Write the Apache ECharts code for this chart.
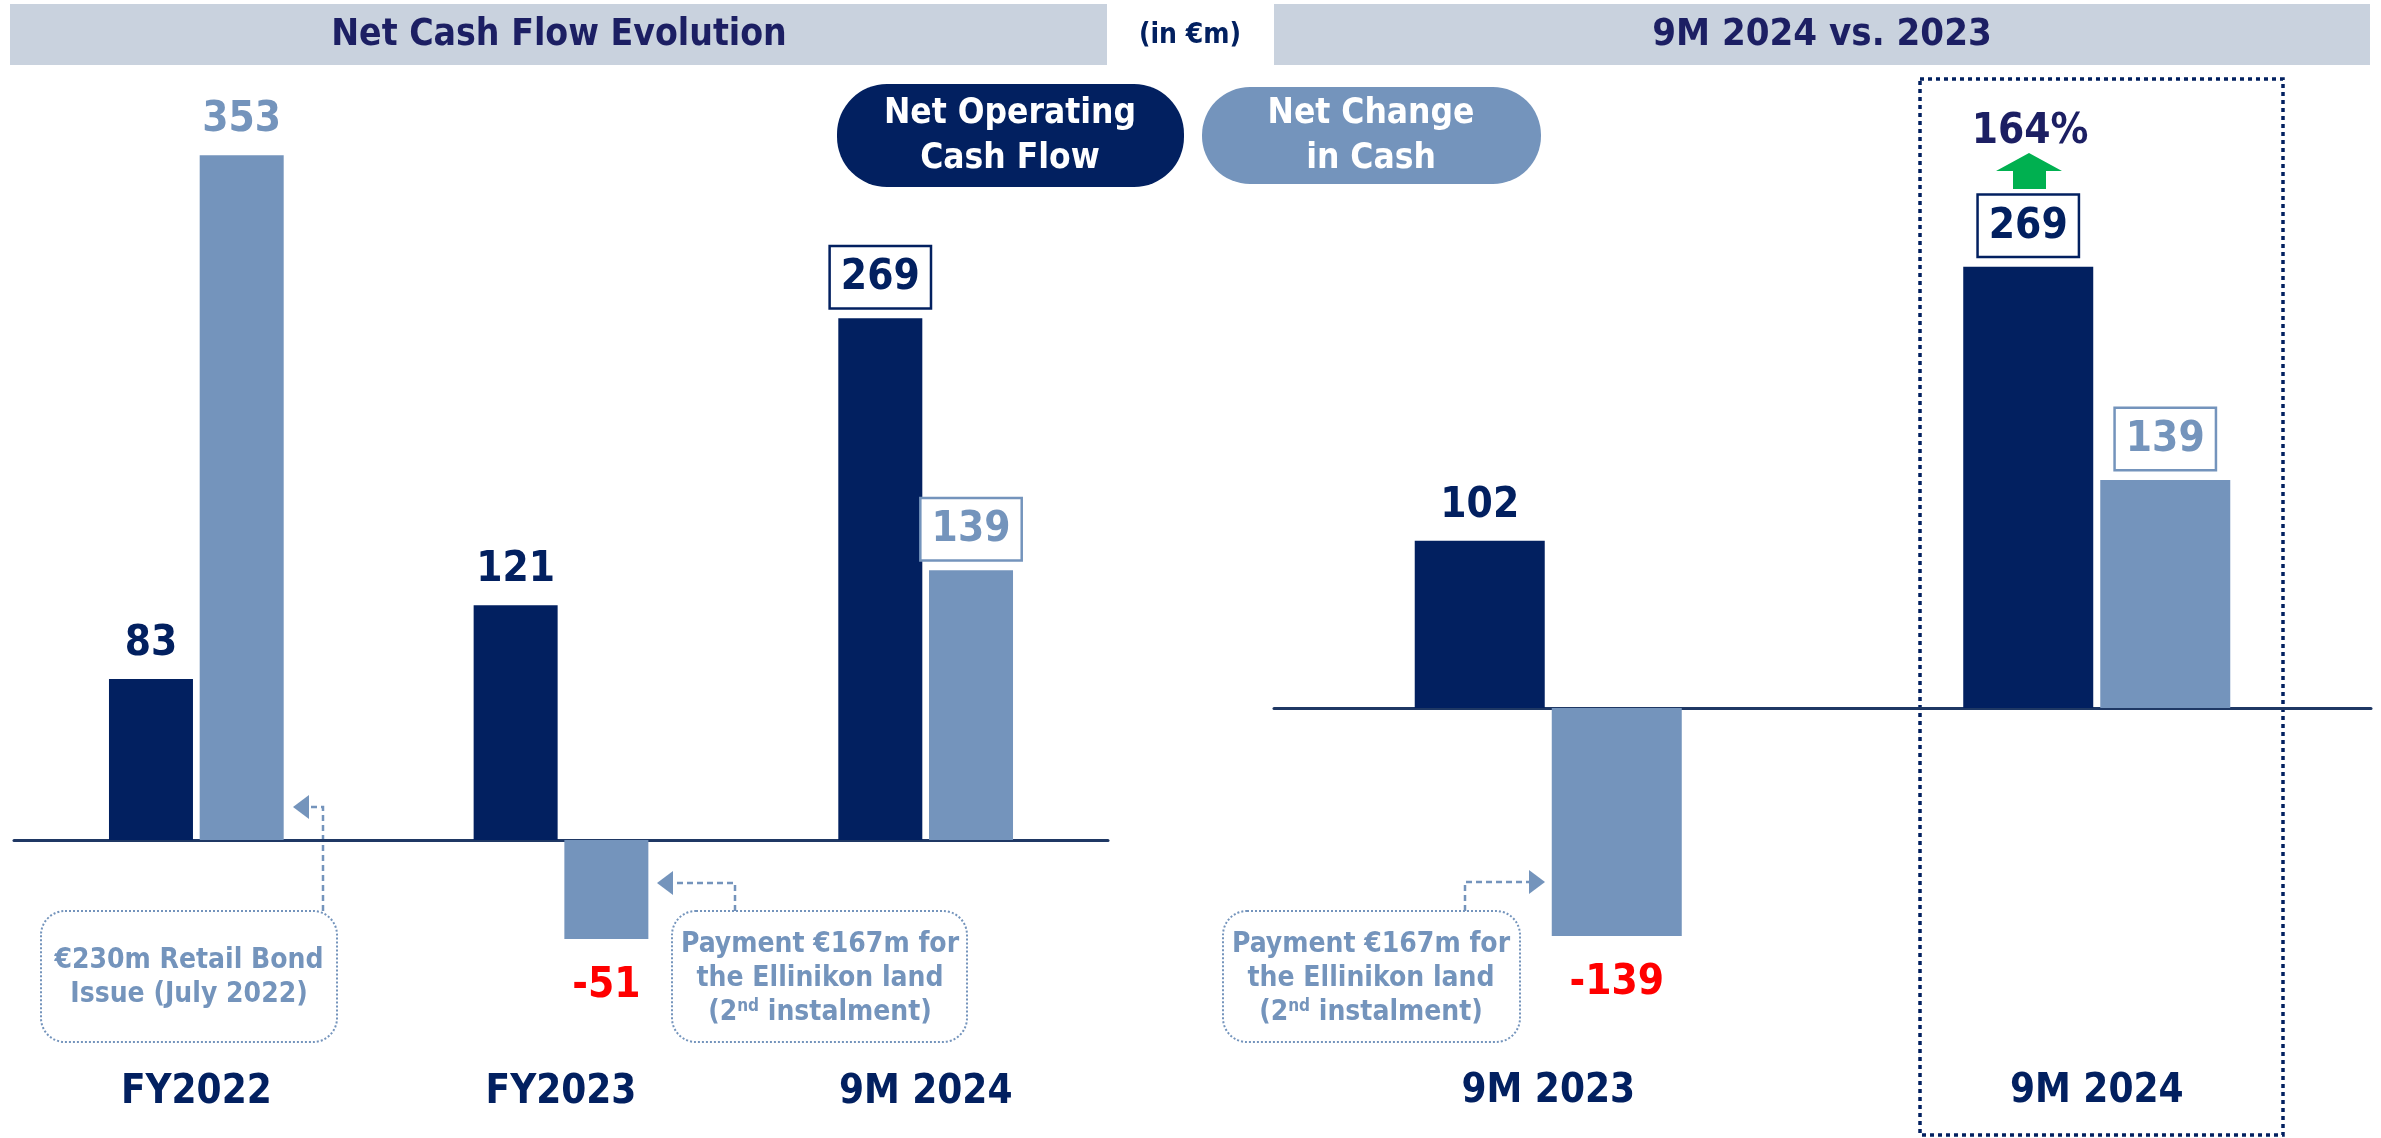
<!DOCTYPE html>
<html>
<head>
<meta charset="utf-8">
<script src="https://cdn.jsdelivr.net/npm/echarts@6/dist/echarts.min.js"></script>
<style>
  html, body { margin: 0; padding: 0; background: #ffffff; }
  #chart { width: 2381px; height: 1138px; }
</style>
</head>
<body>
<div id="chart"></div>
<script>
// Net cash flow, € million
const evolutionPeriods = ['FY2022', 'FY2023', '9M 2024'];
const evolutionOperating = [83, 121, 269];
const evolutionChange = [353, -51, 139];

const comparePeriods = ['9M 2023', '9M 2024'];
const compareOperating = [102, 269];
const compareChange = [-139, 139];

const highlightPeriod = '9M 2024';
const growthText = '164%';

const NAVY = '#022060';
const STEEL = '#7494BC';
const TITLE_INK = '#1C1F63';
const BANNER = '#C9D2DE';
const NEG_RED = '#FF0000';
const FONT = '"Liberation Sans Narrow", "DejaVu Sans Condensed", "Liberation Sans", sans-serif';

function valueLabel(value, color, boxed) {
  const base = { show: true, fontFamily: FONT, fontWeight: 'bold', fontSize: 42, lineHeight: 44 };
  if (value < 0) {
    return Object.assign(base, { position: 'bottom', distance: 25, color: NEG_RED });
  }
  if (boxed) {
    return Object.assign(base, {
      position: 'top', distance: 11, color: color,
      borderColor: color, borderWidth: 2.5, backgroundColor: '#ffffff',
      padding: [9, 10, 7, 10]
    });
  }
  return Object.assign(base, { position: 'top', distance: 13, color: color });
}

function barData(periods, values, color) {
  return values.map((v, i) => ({
    value: v,
    label: valueLabel(v, color, periods[i] === highlightPeriod)
  }));
}

// baseline drawn through zero
function zeroAxis(gridIndex, periods) {
  return {
    type: 'category', gridIndex: gridIndex, data: periods, position: 'bottom',
    axisLine: { onZero: true, lineStyle: { color: '#1F3864', width: 3 } },
    axisTick: { show: false },
    axisLabel: { show: false }
  };
}

// period names along the bottom edge
function periodAxis(gridIndex, periods, margin) {
  return {
    type: 'category', gridIndex: gridIndex, data: periods, position: 'bottom',
    axisLine: { show: false, onZero: false },
    axisTick: { show: false },
    axisLabel: {
      margin: margin, fontFamily: FONT, fontWeight: 'bold', fontSize: 40,
      lineHeight: 42, color: NAVY, interval: 0
    }
  };
}

const chart = echarts.init(document.getElementById('chart'), null, { renderer: 'canvas' });

// dashed connector from an annotation box to the bar it explains
function connector(points, tip, dir) {
  const b = 16, h = 12;
  const head = dir === 'left'
    ? [[tip[0], tip[1]], [tip[0] + b, tip[1] - h], [tip[0] + b, tip[1] + h]]
    : [[tip[0], tip[1]], [tip[0] - b, tip[1] - h], [tip[0] - b, tip[1] + h]];
  return [
    { type: 'polyline', shape: { points: points },
      style: { stroke: STEEL, lineWidth: 2.5, lineDash: [6, 4], fill: null } },
    { type: 'polygon', shape: { points: head }, style: { fill: STEEL } }
  ];
}

function noteBox(x, y, w, h, cx, lines) {
  const items = [
    { type: 'rect', shape: { x: x, y: y, width: w, height: h, r: 24 },
      style: { fill: '#ffffff', stroke: STEEL, lineWidth: 2, lineDash: [2, 2] } }
  ];
  lines.forEach(l => {
    items.push({
      type: 'text', x: cx, y: l.y,
      style: {
        text: l.text, rich: l.rich, align: 'center', verticalAlign: 'middle',
        fill: STEEL, font: 'bold 28px ' + FONT
      }
    });
  });
  return items;
}

const noteRich = {
  sup: { fontSize: 17, fontWeight: 'bold', fontFamily: FONT, color: STEEL, verticalAlign: 'top', padding: [0, 0, 12, 0] },
  n: { fontSize: 28, fontWeight: 'bold', fontFamily: FONT, color: STEEL }
};

const graphics = [
  // section banners
  { type: 'rect', shape: { x: 10, y: 4, width: 1097, height: 61 }, style: { fill: BANNER } },
  { type: 'text', x: 559, y: 35, style: { text: 'Net Cash Flow Evolution', align: 'center', verticalAlign: 'middle', fill: TITLE_INK, font: 'bold 37px ' + FONT } },
  { type: 'text', x: 1190, y: 36, style: { text: '(in €m)', align: 'center', verticalAlign: 'middle', fill: NAVY, font: 'bold 28px ' + FONT } },
  { type: 'rect', shape: { x: 1274, y: 4, width: 1096, height: 61 }, style: { fill: BANNER } },
  { type: 'text', x: 1822, y: 35, style: { text: '9M 2024 vs. 2023', align: 'center', verticalAlign: 'middle', fill: TITLE_INK, font: 'bold 38px ' + FONT } },

  // series keys
  { type: 'rect', shape: { x: 837, y: 84, width: 347, height: 103, r: 50 }, style: { fill: NAVY } },
  { type: 'text', x: 1010, y: 136, style: { text: 'Net Operating\nCash Flow', align: 'center', verticalAlign: 'middle', lineHeight: 45, fill: '#ffffff', font: 'bold 35px ' + FONT } },
  { type: 'rect', shape: { x: 1202, y: 87, width: 339, height: 97, r: 48 }, style: { fill: STEEL } },
  { type: 'text', x: 1371, y: 136, style: { text: 'Net Change\nin Cash', align: 'center', verticalAlign: 'middle', lineHeight: 45, fill: '#ffffff', font: 'bold 35px ' + FONT } },

  // highlighted period frame
  { type: 'rect', z: -1, shape: { x: 1920, y: 79, width: 363, height: 1056 }, style: { fill: null, stroke: NAVY, lineWidth: 3.5, lineDash: [4, 4] } },

  // growth marker
  { type: 'text', x: 2030, y: 132, style: { text: growthText, align: 'center', verticalAlign: 'middle', fill: TITLE_INK, font: 'bold 42px ' + FONT } },
  { type: 'polygon', shape: { points: [[1996, 171], [2029, 153], [2062, 171], [2046, 171], [2046, 189], [2013, 189], [2013, 171]] }, style: { fill: '#00B050' } }
];

// annotations
graphics.push(...noteBox(41, 911, 296, 131, 189, [
  { y: 961, text: '€230m Retail Bond' },
  { y: 995, text: 'Issue (July 2022)' }
]));
graphics.push(...connector([[323, 911], [323, 807], [305, 807]], [293, 807], 'left'));

const paymentLines = [
  { y: 945, text: 'Payment €167m for' },
  { y: 979, text: 'the Ellinikon land' },
  { y: 1013, text: '{n|(2}{sup|nd}{n| instalment)}', rich: noteRich }
];
graphics.push(...noteBox(672, 911, 295, 131, 820, paymentLines));
graphics.push(...connector([[735, 911], [735, 883], [668, 883]], [657, 883], 'left'));
graphics.push(...noteBox(1223, 911, 297, 131, 1371, paymentLines));
graphics.push(...connector([[1465, 911], [1465, 882], [1534, 882]], [1545, 882], 'right'));

chart.setOption({
  animation: false,
  backgroundColor: '#ffffff',
  grid: [
    { left: 14, width: 1094, top: 64, height: 995.2, containLabel: false, outerBoundsMode: 'none' },
    { left: 1274, width: 1097, top: 52, height: 1008.6, containLabel: false, outerBoundsMode: 'none' }
  ],
  xAxis: [
    zeroAxis(0, evolutionPeriods),
    periodAxis(0, evolutionPeriods, 12),
    zeroAxis(1, comparePeriods),
    periodAxis(1, comparePeriods, 10)
  ],
  yAxis: [
    { type: 'value', gridIndex: 0, min: -113, max: 400, show: false },
    { type: 'value', gridIndex: 1, min: -215, max: 400, show: false }
  ],
  series: [
    { name: 'Net Operating Cash Flow', type: 'bar', xAxisIndex: 0, yAxisIndex: 0,
      barWidth: 84, barGap: '8%', itemStyle: { color: NAVY },
      data: barData(evolutionPeriods, evolutionOperating, NAVY) },
    { name: 'Net Change in Cash', type: 'bar', xAxisIndex: 0, yAxisIndex: 0,
      barWidth: 84, barGap: '8%', itemStyle: { color: STEEL },
      data: barData(evolutionPeriods, evolutionChange, STEEL) },
    { name: 'Net Operating Cash Flow', type: 'bar', xAxisIndex: 2, yAxisIndex: 1,
      barWidth: 130, barGap: '5.4%', itemStyle: { color: NAVY },
      data: barData(comparePeriods, compareOperating, NAVY) },
    { name: 'Net Change in Cash', type: 'bar', xAxisIndex: 2, yAxisIndex: 1,
      barWidth: 130, barGap: '5.4%', itemStyle: { color: STEEL },
      data: barData(comparePeriods, compareChange, STEEL) }
  ],
  graphic: graphics
});
</script>
</body>
</html>
